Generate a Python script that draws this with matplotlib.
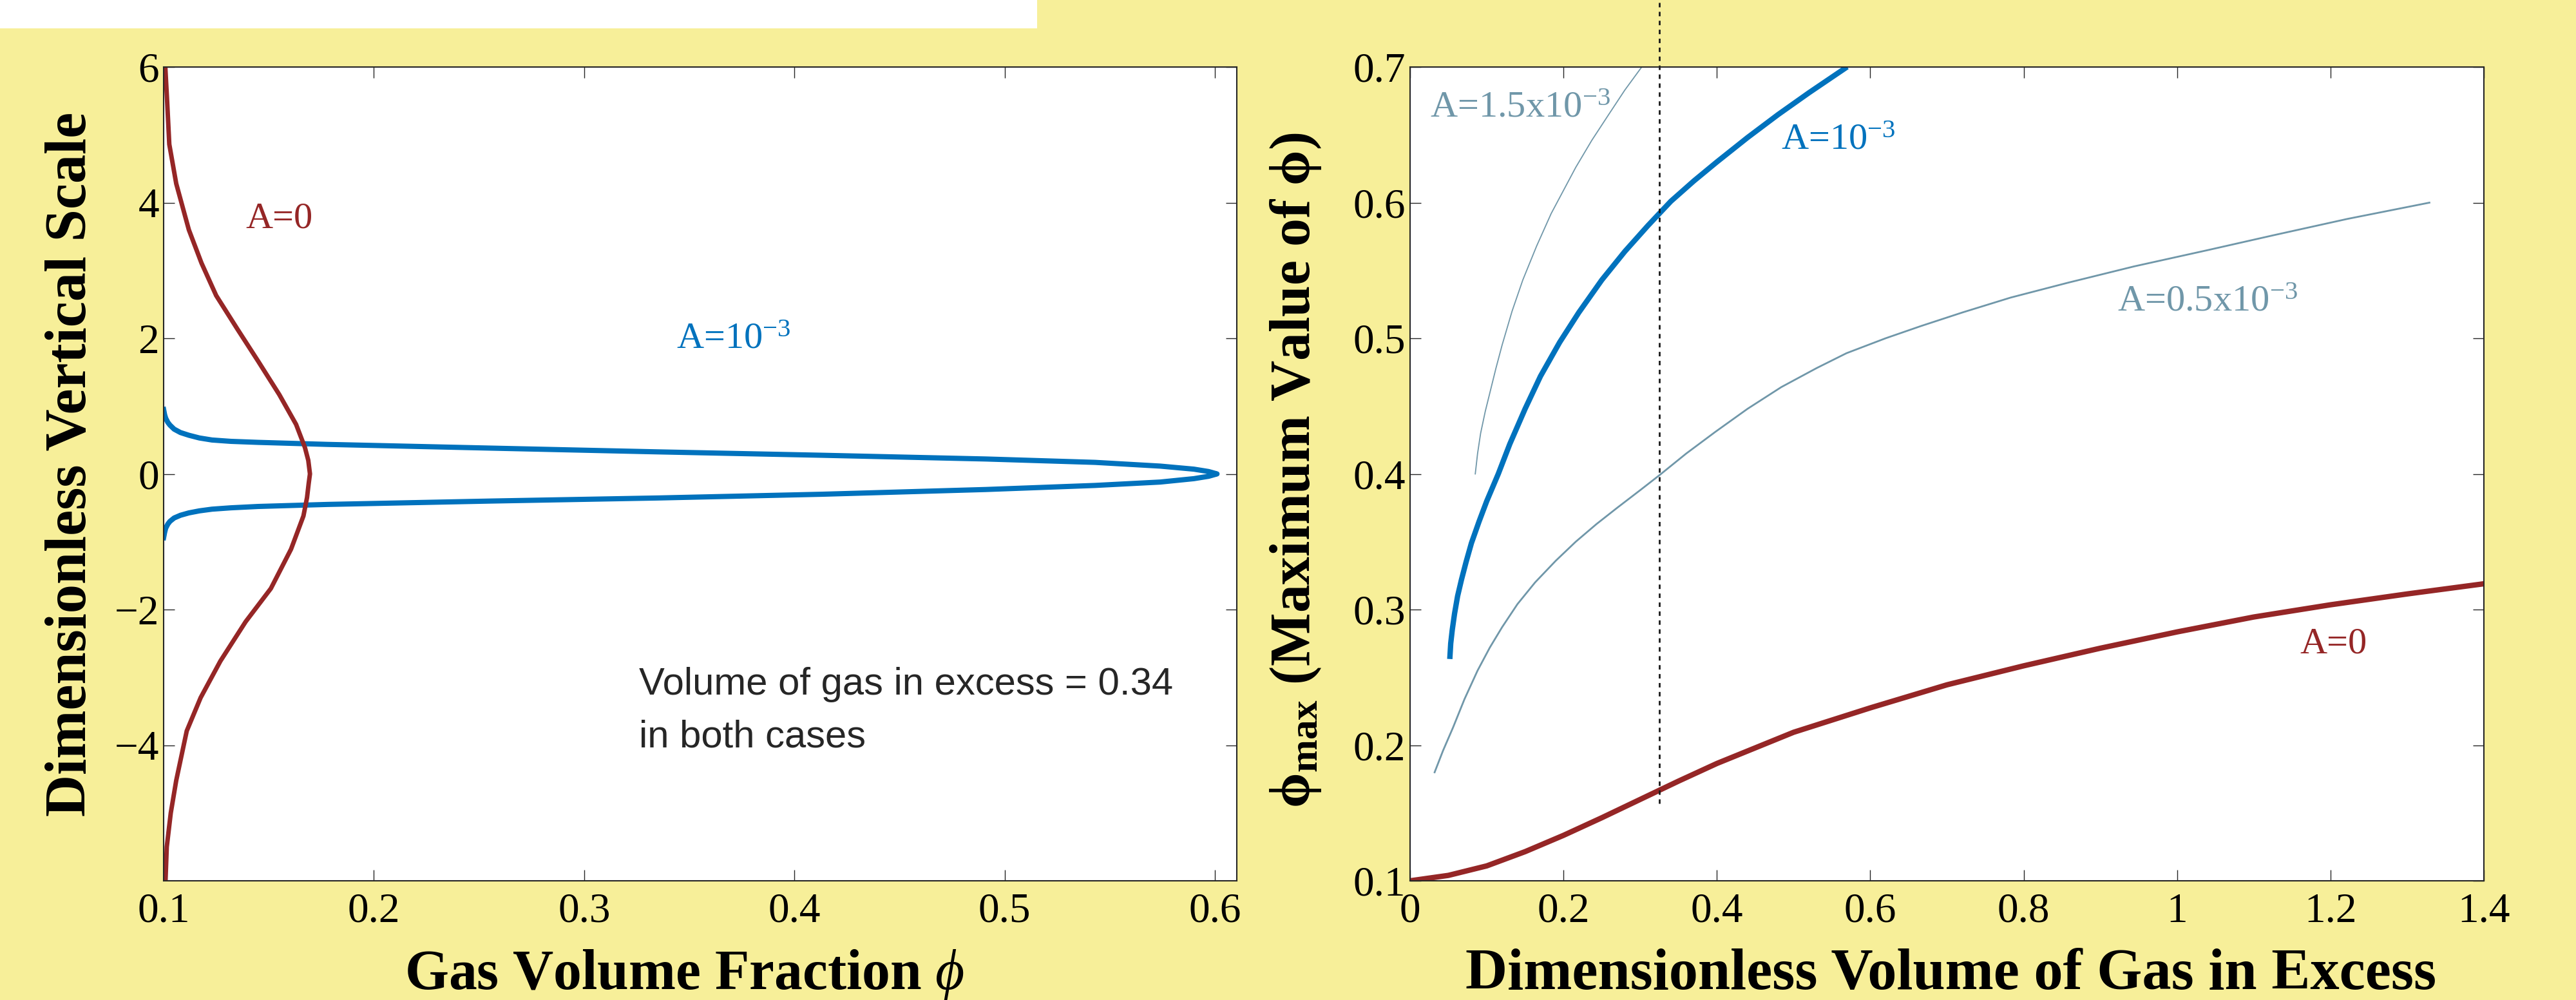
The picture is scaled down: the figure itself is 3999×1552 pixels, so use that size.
import matplotlib.pyplot as plt
from matplotlib.patches import Rectangle
from matplotlib.ticker import FuncFormatter

W, H = 3999, 1552
DPI = 100

plt.rcParams['font.family'] = ['Liberation Serif', 'DejaVu Serif']
plt.rcParams['mathtext.fontset'] = 'custom'
plt.rcParams['mathtext.rm'] = 'Liberation Serif'
plt.rcParams['mathtext.it'] = 'Liberation Serif:italic'
plt.rcParams['mathtext.bf'] = 'Liberation Serif:bold'
plt.rcParams['axes.unicode_minus'] = True

bg = '#F7EF99'
red = '#952626'
blue = '#0072BD'
grayblue = '#7097A9'
dark = '#262626'

# left panel: vertical profiles phi(z), total excess gas 0.34
z_a0 = [6.0, 5.54, 4.86, 4.28, 3.6, 3.11, 2.63, 2.14, 1.66, 1.17, 0.73, 0.39, 0.2, 0.0,
        -0.14, -0.35, -0.62, -1.11, -1.69, -2.18, -2.76, -3.3, -3.79, -4.52, -5.0, -5.5, -6.0]
phi_a0 = [0.1008, 0.1016, 0.1027, 0.106, 0.112, 0.118, 0.125, 0.135, 0.145, 0.155, 0.163, 0.1672, 0.1688, 0.1696,
          0.1690, 0.1682, 0.1665, 0.1606, 0.151, 0.139, 0.127, 0.1176, 0.111, 0.106, 0.1034, 0.1015, 0.1009]

z_a1 = [0.95, 0.87, 0.82, 0.76, 0.72, 0.66, 0.61, 0.57, 0.53, 0.50, 0.48, 0.465, 0.435, 0.38, 0.325, 0.275,
        0.22, 0.17, 0.115, 0.07, 0.035, 0.0,
        -0.035, -0.07, -0.12, -0.17, -0.23, -0.30, -0.355, -0.40, -0.45, -0.48, -0.50, -0.52, -0.545,
        -0.575, -0.61, -0.65, -0.70, -0.74, -0.80, -0.86, -0.94]
phi_a1 = [0.100, 0.1005, 0.101, 0.102, 0.103, 0.105, 0.108, 0.112, 0.117, 0.123, 0.132, 0.145, 0.178, 0.256, 0.335, 0.413,
          0.491, 0.543, 0.574, 0.590, 0.597, 0.601,
          0.597, 0.590, 0.574, 0.543, 0.491, 0.413, 0.335, 0.256, 0.178, 0.145, 0.132, 0.123, 0.117,
          0.112, 0.108, 0.105, 0.103, 0.102, 0.101, 0.1005, 0.100]

# right panel: maximum phi vs excess gas volume
vol_a0 = [0.0, 0.05, 0.1, 0.15, 0.2, 0.25, 0.3, 0.35, 0.4, 0.5, 0.6, 0.7, 0.8, 0.9, 1.0, 1.1, 1.2, 1.3, 1.4]
pmax_a0 = [0.1, 0.104, 0.111, 0.1215, 0.1335, 0.1465, 0.160, 0.1735, 0.1865, 0.2095, 0.2275, 0.2445,
           0.2585, 0.2715, 0.2835, 0.2945, 0.3035, 0.3115, 0.319]

vol_a1 = [0.052, 0.053, 0.055, 0.058, 0.062, 0.067, 0.073, 0.08, 0.09, 0.1, 0.115, 0.13, 0.15, 0.17,
          0.195, 0.22, 0.25, 0.28, 0.31, 0.34, 0.37, 0.40, 0.44, 0.48, 0.52, 0.567]
pmax_a1 = [0.2655, 0.275, 0.285, 0.297, 0.31, 0.322, 0.335, 0.349, 0.365, 0.38, 0.40, 0.422, 0.448, 0.472,
           0.497, 0.519, 0.543, 0.564, 0.583, 0.601, 0.616, 0.630, 0.648, 0.665, 0.681, 0.699]

vol_a15 = [0.085, 0.088, 0.092, 0.098, 0.105, 0.112, 0.120, 0.133, 0.147, 0.165, 0.184, 0.216, 0.237, 0.259, 0.28, 0.302]
pmax_a15 = [0.4, 0.415, 0.43, 0.446, 0.462, 0.478, 0.495, 0.52, 0.543, 0.568, 0.592, 0.626, 0.646, 0.665, 0.683, 0.7]

vol_a05 = [0.032, 0.043, 0.056, 0.071, 0.088, 0.104, 0.12, 0.14, 0.163, 0.19, 0.216, 0.243, 0.27, 0.3, 0.325,
           0.36, 0.398, 0.44, 0.484, 0.53, 0.569, 0.62, 0.666, 0.72, 0.783, 0.858, 0.944, 1.04, 1.126, 1.222, 1.329]
pmax_a05 = [0.18, 0.196, 0.213, 0.234, 0.255, 0.272, 0.287, 0.304, 0.320, 0.336, 0.350, 0.363, 0.375, 0.388, 0.399,
            0.415, 0.431, 0.448, 0.464, 0.478, 0.489, 0.500, 0.509, 0.519, 0.530, 0.541, 0.553, 0.565, 0.576, 0.588, 0.600]

vol_marker = 0.325

left_xticks = [0.1, 0.2, 0.3, 0.4, 0.5, 0.6]
left_yticks = [-4, -2, 0, 2, 4, 6]
right_xticks = [0, 0.2, 0.4, 0.6, 0.8, 1.0, 1.2, 1.4]
right_yticks = [0.1, 0.2, 0.3, 0.4, 0.5, 0.6, 0.7]

fig = plt.figure(figsize=(W / DPI, H / DPI), dpi=DPI, facecolor=bg)
fig.patches.append(Rectangle((0, 1 - 44 / H), 1610 / W, 44 / H, transform=fig.transFigure,
                             facecolor='white', edgecolor='none', zorder=0))


def px_axes(x0, y0, x1, y1):
    return fig.add_axes([x0 / W, 1 - y1 / H, (x1 - x0) / W, (y1 - y0) / H])


ax1 = px_axes(254, 104, 1920, 1367)
ax2 = px_axes(2189, 104, 3856, 1367)

fmt = FuncFormatter(lambda v, p: ('%g' % v).replace('-', '\u2212'))
for ax in (ax1, ax2):
    ax.set_facecolor('white')
    for s in ax.spines.values():
        s.set_color(dark)
        s.set_linewidth(1.5)
    ax.tick_params(direction='in', top=True, right=True, length=12, width=1.0,
                   color=dark, labelsize=47, labelcolor='black')
    ax.tick_params(axis='x', pad=13)
    ax.tick_params(axis='y', pad=5)
    ax.xaxis.set_major_formatter(fmt)
    ax.yaxis.set_major_formatter(fmt)

# left panel
ax1.plot(phi_a1, z_a1, color=blue, lw=5.8)
ax1.plot(phi_a0, z_a0, color=red, lw=5.0)
ax1.set_xlim(0.1, 0.6104)
ax1.set_ylim(-6, 6)
ax1.set_xticks(left_xticks)
ax1.set_yticks(left_yticks)
ax1.text(0.139, 3.625, 'A=0', color=red, fontsize=42, va='baseline')
ax1.text(0.344, 1.85, r'A=10$^{-3}$', color=blue, fontsize=42, va='baseline')
ax1.text(0.326, -3.25, 'Volume of gas in excess = 0.34', family='Liberation Sans',
         fontsize=43, color=dark, va='baseline')
ax1.text(0.326, -4.03, 'in both cases', family='Liberation Sans',
         fontsize=43, color=dark, va='baseline')

# right panel
ax2.plot(vol_a15, pmax_a15, color=grayblue, lw=1.3)
ax2.plot(vol_a05, pmax_a05, color=grayblue, lw=2.0)
ax2.plot(vol_a1, pmax_a1, color=blue, lw=6.0)
ax2.plot(vol_a0, pmax_a0, color=red, lw=6.0)
ax2.plot([vol_marker, vol_marker], [0.157, 0.75], color='#1a1a1a', lw=2.0,
         linestyle=(0, (2.5, 2.5)), clip_on=False)
ax2.set_xlim(0, 1.4)
ax2.set_ylim(0.1, 0.7)
ax2.set_xticks(right_xticks)
ax2.set_yticks(right_yticks)
ax2.text(0.026, 0.663, r'A=1.5x10$^{-3}$', color=grayblue, fontsize=42, va='baseline')
ax2.text(0.484, 0.6396, r'A=10$^{-3}$', color=blue, fontsize=42, va='baseline')
ax2.text(0.922, 0.520, r'A=0.5x10$^{-3}$', color=grayblue, fontsize=42, va='baseline')
ax2.text(1.160, 0.268, 'A=0', color=red, fontsize=42, va='baseline')

# axis labels
fig.text(1063 / W, 1 - 1535 / H, r'Gas Volume Fraction $\phi$', fontsize=63,
         fontweight='bold', ha='center', va='baseline')
fig.text(3029 / W, 1 - 1535 / H, 'Dimensionless Volume of Gas in Excess', fontsize=65,
         fontweight='bold', ha='center', va='baseline')
fig.text(133 / W, 1 - 720 / H, 'Dimensionless Vertical Scale', fontsize=65,
         fontweight='bold', rotation=90, rotation_mode='anchor', ha='center', va='baseline')
fig.text(2033 / W, 1 - 730 / H, r'$\mathbf{\phi}_{\mathbf{max}}$ (Maximum Value of $\mathbf{\phi}$)',
         fontsize=63, fontweight='bold', rotation=90, rotation_mode='anchor',
         ha='center', va='baseline')

fig.savefig('out.png', dpi=DPI, facecolor=bg)
